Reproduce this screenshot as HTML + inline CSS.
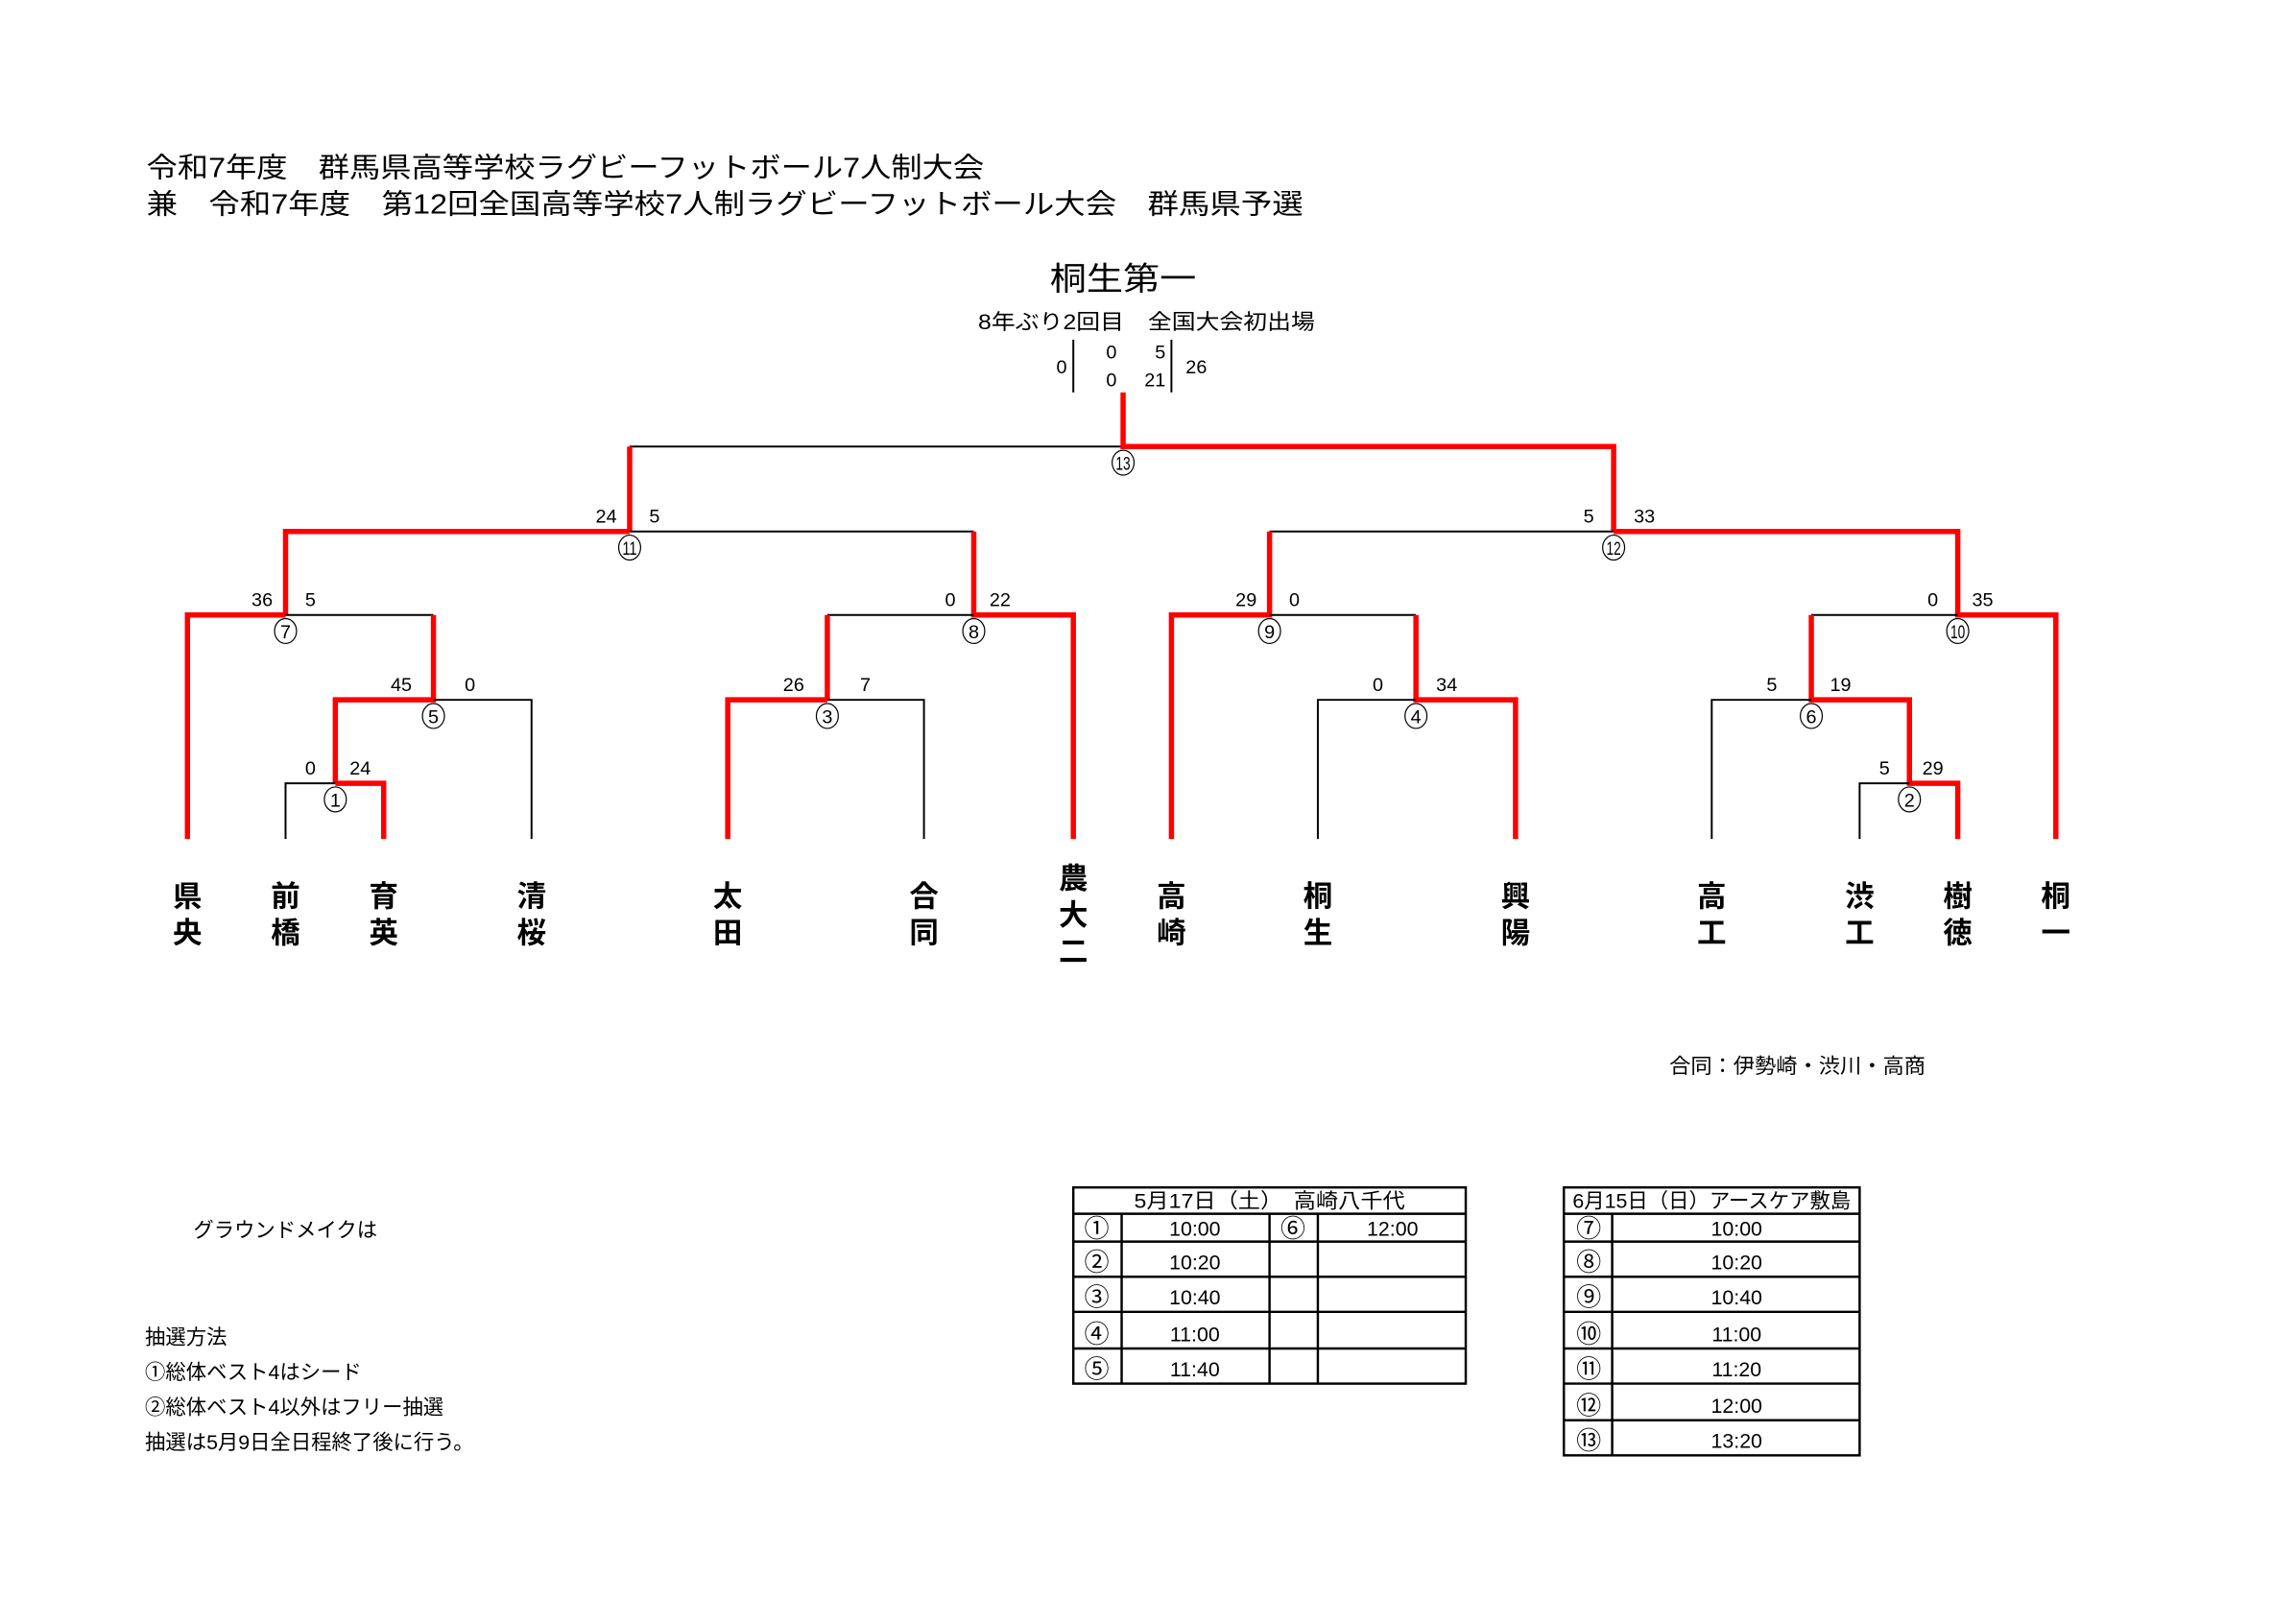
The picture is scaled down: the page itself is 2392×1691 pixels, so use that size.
<!DOCTYPE html>
<html><head><meta charset="utf-8"><style>
html,body{margin:0;padding:0;background:#fff;}
svg{display:block;}
text{font-family:"Liberation Sans","Noto Sans CJK JP",sans-serif;fill:#000;}
.s{font-size:13px;}
.n{font-size:20px;font-weight:bold;text-anchor:middle;}
.c{font-size:13px;text-anchor:middle;}
.k{stroke:#000;stroke-width:1.3;fill:none;}
.r{stroke:#f00;stroke-width:3.6;fill:none;}
.t{font-size:14px;text-anchor:middle;}
.t2{font-size:17px;text-anchor:middle;}
</style></head><body>
<svg width="2392" height="1691" viewBox="0 0 1568 1108.5" xmlns="http://www.w3.org/2000/svg">
<text x="100" y="121" font-size="19" textLength="572" lengthAdjust="spacingAndGlyphs">令和7年度　群馬県高等学校ラグビーフットボール7人制大会</text>
<text x="100" y="146" font-size="19" textLength="790" lengthAdjust="spacingAndGlyphs">兼　令和7年度　第12回全国高等学校7人制ラグビーフットボール大会　群馬県予選</text>
<text x="767" y="198" font-size="22" text-anchor="middle" textLength="100" lengthAdjust="spacingAndGlyphs">桐生第一</text>
<text x="783" y="225" font-size="14.5" text-anchor="middle" textLength="230" lengthAdjust="spacingAndGlyphs">8年ぶり2回目　全国大会初出場</text>
<line class="k" x1="733" y1="232" x2="733" y2="268"/><line class="k" x1="800" y1="232" x2="800" y2="268"/>
<text class="s" x="725" y="255" text-anchor="middle">0</text>
<text class="s" x="759" y="245" text-anchor="middle">0</text>
<text class="s" x="759" y="264" text-anchor="middle">0</text>
<text class="s" x="796" y="245" text-anchor="end">5</text>
<text class="s" x="796" y="264" text-anchor="end">21</text>
<text class="s" x="817" y="255" text-anchor="middle">26</text>
<g>
<path class="k" d="M430 305H767"/>
<path class="r" d="M767 268V305H1102V363"/>
<path class="r" d="M430 305V363"/>
<path class="k" d="M430 363H665"/>
<path class="r" d="M430 363H195V420"/>
<path class="r" d="M665 363V420H733V573"/>
<path class="k" d="M565 420H665"/>
<path class="r" d="M565 420V478"/>
<path class="k" d="M195 420H296"/>
<path class="r" d="M195 420H128V573"/>
<path class="r" d="M296 420V478H229V535"/>
<path class="k" d="M296 478H363V573"/>
<path class="k" d="M229 535H195V573"/>
<path class="r" d="M229 535H262V573"/>
<path class="r" d="M565 478H497V573"/>
<path class="k" d="M565 478H631V573"/>
<path class="k" d="M867 363H1102"/>
<path class="r" d="M1102 363H1337V420H1404V573"/>
<path class="r" d="M867 363V420H800V573"/>
<path class="k" d="M867 420H967"/>
<path class="r" d="M967 420V478H1035V573"/>
<path class="k" d="M967 478H900V573"/>
<path class="k" d="M1237 420H1337"/>
<path class="r" d="M1237 420V478H1304V535H1337V573"/>
<path class="k" d="M1237 478H1169V573"/>
<path class="k" d="M1304 535H1270V573"/>
</g>
<g class="s" text-anchor="middle">
<text x="414" y="357">24</text><text x="447" y="357">5</text>
<text x="1085" y="357">5</text><text x="1123" y="357">33</text>
<text x="179" y="414">36</text><text x="212" y="414">5</text>
<text x="649" y="414">0</text><text x="683" y="414">22</text>
<text x="851" y="414">29</text><text x="884" y="414">0</text>
<text x="1320" y="414">0</text><text x="1354" y="414">35</text>
<text x="274" y="472">45</text><text x="321" y="472">0</text>
<text x="542" y="472">26</text><text x="591" y="472">7</text>
<text x="941" y="472">0</text><text x="988" y="472">34</text>
<text x="1210" y="472">5</text><text x="1257" y="472">19</text>
<text x="212" y="529">0</text><text x="246" y="529">24</text>
<text x="1287" y="529">5</text><text x="1320" y="529">29</text>
</g>
<g fill="#fff" stroke="#000" stroke-width="0.8">
<ellipse cx="767" cy="316" rx="7.5" ry="8.5"/><ellipse cx="430" cy="374" rx="7.5" ry="8.5"/><ellipse cx="1102" cy="374" rx="7.5" ry="8.5"/>
<ellipse cx="195" cy="431" rx="7.5" ry="8.5"/><ellipse cx="665" cy="431" rx="7.5" ry="8.5"/><ellipse cx="867" cy="431" rx="7.5" ry="8.5"/><ellipse cx="1337" cy="431" rx="7.5" ry="8.5"/>
<ellipse cx="296" cy="489" rx="7.5" ry="8.5"/><ellipse cx="565" cy="489" rx="7.5" ry="8.5"/><ellipse cx="967" cy="489" rx="7.5" ry="8.5"/><ellipse cx="1237" cy="489" rx="7.5" ry="8.5"/>
<ellipse cx="229" cy="546" rx="7.5" ry="8.5"/><ellipse cx="1304" cy="546" rx="7.5" ry="8.5"/>
</g>
<g class="c">
<text x="767" y="321" textLength="10" lengthAdjust="spacingAndGlyphs">13</text><text x="430" y="379" textLength="10" lengthAdjust="spacingAndGlyphs">11</text><text x="1102" y="379" textLength="10" lengthAdjust="spacingAndGlyphs">12</text>
<text x="195" y="436">7</text><text x="665" y="436">8</text><text x="867" y="436">9</text><text x="1337" y="436" textLength="10" lengthAdjust="spacingAndGlyphs">10</text>
<text x="296" y="494">5</text><text x="565" y="494">3</text><text x="967" y="494">4</text><text x="1237" y="494">6</text>
<text x="229" y="551">1</text><text x="1304" y="551">2</text>
</g>
<g class="n">
<text x="128" y="619">県</text><text x="128" y="644">央</text>
<text x="195" y="619">前</text><text x="195" y="644">橋</text>
<text x="262" y="619">育</text><text x="262" y="644">英</text>
<text x="363" y="619">清</text><text x="363" y="644">桜</text>
<text x="497" y="619">太</text><text x="497" y="644">田</text>
<text x="631" y="619">合</text><text x="631" y="644">同</text>
<text x="733" y="607">農</text><text x="733" y="632">大</text><text x="733" y="657">二</text>
<text x="800" y="619">高</text><text x="800" y="644">崎</text>
<text x="900" y="619">桐</text><text x="900" y="644">生</text>
<text x="1035" y="619">興</text><text x="1035" y="644">陽</text>
<text x="1169" y="619">高</text><text x="1169" y="644">工</text>
<text x="1270" y="619">渋</text><text x="1270" y="644">工</text>
<text x="1337" y="619">樹</text><text x="1337" y="644">徳</text>
<text x="1404" y="619">桐</text><text x="1404" y="644">一</text>
</g>
<text x="1140" y="733" font-size="14" textLength="175" lengthAdjust="spacingAndGlyphs">合同：伊勢崎・渋川・高商</text>
<g font-size="14">
<text x="132" y="845">グラウンドメイクは</text>
<text x="99" y="918">抽選方法</text>
<text x="99" y="942">①総体ベスト4はシード</text>
<text x="99" y="966">②総体ベスト4以外はフリー抽選</text>
<text x="99" y="990">抽選は5月9日全日程終了後に行う。</text>
</g>
<g stroke="#000" stroke-width="1.6" fill="none">
<rect x="733" y="811" width="268" height="134"/>
<path d="M733 829H1001M733 848H1001M733 872H1001M733 896H1001M733 921H1001"/>
<path d="M766 829V945M867 829V945M900 829V945"/>
<rect x="1068" y="811" width="202" height="183"/>
<path d="M1068 829H1270M1068 848H1270M1068 872H1270M1068 896H1270M1068 921H1270M1068 945H1270M1068 970H1270"/>
<path d="M1101 829V994"/>
</g>
<g class="t">
<text x="867" y="825" textLength="185" lengthAdjust="spacingAndGlyphs">5月17日（土）　高崎八千代</text>
<text x="816" y="844">10:00</text><text x="951" y="844">12:00</text>
<text x="816" y="867">10:20</text>
<text x="816" y="891">10:40</text>
<text x="816" y="916">11:00</text>
<text x="816" y="940">11:40</text>
<text x="1169" y="825" textLength="190" lengthAdjust="spacingAndGlyphs">6月15日（日）アースケア敷島</text>
<text x="1186" y="844">10:00</text>
<text x="1186" y="867">10:20</text>
<text x="1186" y="891">10:40</text>
<text x="1186" y="916">11:00</text>
<text x="1186" y="940">11:20</text>
<text x="1186" y="965">12:00</text>
<text x="1186" y="989">13:20</text>
</g>
<g class="t2">
<text x="749" y="845">①</text><text x="883" y="845">⑥</text>
<text x="749" y="868">②</text><text x="749" y="892">③</text><text x="749" y="917">④</text><text x="749" y="941">⑤</text>
<text x="1085" y="845">⑦</text><text x="1085" y="868">⑧</text><text x="1085" y="892">⑨</text><text x="1085" y="917">⑩</text>
<text x="1085" y="941">⑪</text><text x="1085" y="966">⑫</text><text x="1085" y="990">⑬</text>
</g>
</svg>
</body></html>
